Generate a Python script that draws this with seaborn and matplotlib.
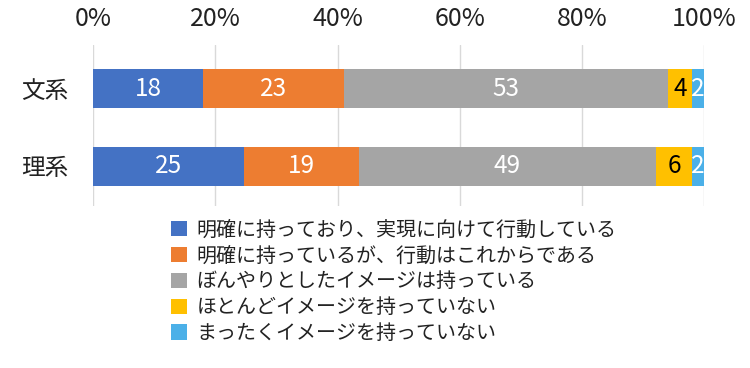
import numpy as np
import pandas as pd
import matplotlib.pyplot as plt
import seaborn as sns
from matplotlib.patches import Patch

categories = ["文系", "理系"]
series_labels = [
    "明確に持っており、実現に向けて行動している",
    "明確に持っているが、行動はこれからである",
    "ぼんやりとしたイメージは持っている",
    "ほとんどイメージを持っていない",
    "まったくイメージを持っていない",
]
acting = [18, 25]
planning = [23, 19]
vague = [53, 49]
hardly = [4, 6]
none_at_all = [2, 2]
tick_values = [0, 20, 40, 60, 80, 100]

colors = ["#4472C4", "#ED7D31", "#A5A5A5", "#FFC000", "#4BB0E8"]
text_colors = ["white", "white", "white", "black", "white"]

sns.set_theme(style="white")
plt.rcParams["font.family"] = ["Noto Sans CJK JP", "DejaVu Sans"]

values = np.array([acting, planning, vague, hardly, none_at_all], dtype=float)
share = values / values.sum(axis=0) * 100
cum_end = share.cumsum(axis=0)
cum_start = cum_end - share

fig = plt.figure(figsize=(7.5, 3.68), dpi=100)
ax = fig.add_axes([0.124, 0.44, 0.815, 0.438])

# stack by overlaying cumulative bars, longest first
for i in reversed(range(len(series_labels))):
    df = pd.DataFrame({"category": categories, "end": cum_end[i]})
    sns.barplot(data=df, x="end", y="category", orient="h", color=colors[i],
                saturation=1, width=0.5, linewidth=0, ax=ax)

for i in range(len(series_labels)):
    for j in range(len(categories)):
        mid = (cum_start[i, j] + cum_end[i, j]) / 2
        ax.text(mid, j, f"{values[i, j]:.0f}", ha="center", va="center",
                color=text_colors[i], fontsize=17.5)

ax.set_xlim(0, 100)
ax.set_ylim(1.51, -0.56)
ax.set_xticks(tick_values)
ax.set_xticklabels([f"{v}%" for v in tick_values])
ax.xaxis.tick_top()
ax.tick_params(axis="x", length=0, pad=9, labelsize=18, colors="#222222")
ax.tick_params(axis="y", length=0, pad=18, labelsize=17, colors="#222222")
ax.set_xlabel("")
ax.set_ylabel("")
ax.grid(axis="x", color="#D9D9D9", linewidth=1)
ax.set_axisbelow(True)
for s in ax.spines.values():
    s.set_visible(False)

handles = [Patch(facecolor=c, edgecolor="none") for c in colors]
fig.legend(handles, series_labels, loc="upper center", bbox_to_anchor=(0.525, 0.43),
           frameon=False, fontsize=14.4, handlelength=0.8, handleheight=0.8,
           handletextpad=0.5, labelspacing=0.24, borderpad=0, labelcolor="#222222")

fig.savefig("out.png", dpi=100)
